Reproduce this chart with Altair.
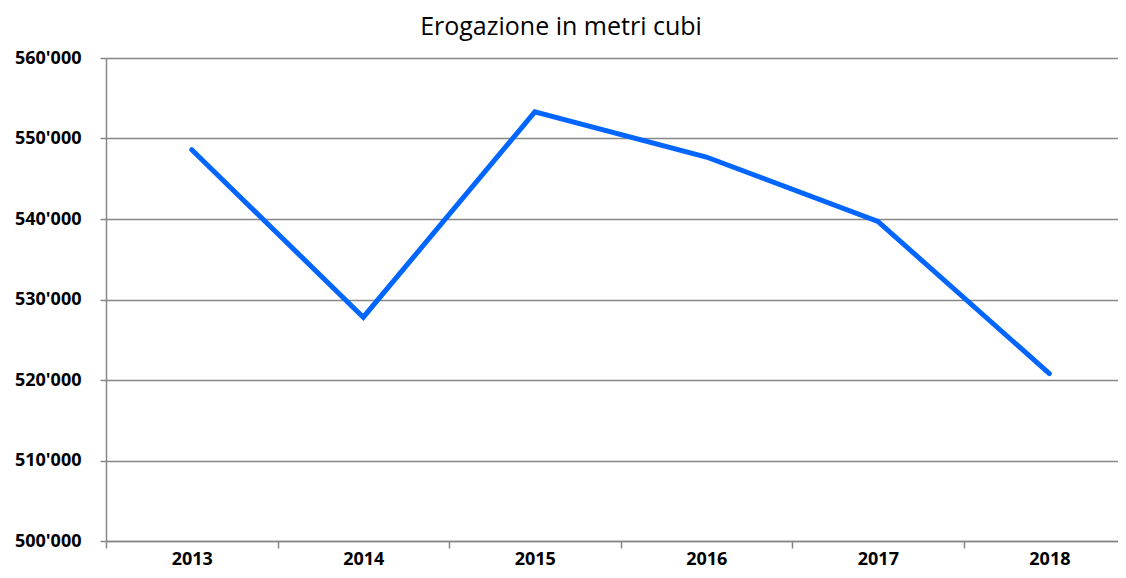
import altair as alt
import pandas as pd

years = [2013, 2014, 2015, 2016, 2017, 2018]
values = [548600, 527800, 553300, 547700, 539700, 520800]
y_ticks = [500000, 510000, 520000, 530000, 540000, 550000, 560000]
x_tick_positions = [2012.5, 2013.5, 2014.5, 2015.5, 2016.5, 2017.5]

df = pd.DataFrame({"anno": years, "valore": values})

GRAY = "#878787"
FONT = "Open Sans"

line = alt.Chart(df).mark_line(
    color="#0066FF", strokeWidth=5, strokeCap="round", strokeJoin="miter"
).encode(
    x=alt.X(
        "anno:Q",
        scale=alt.Scale(domain=[2012.5, 2018.40], nice=False, zero=False),
        axis=alt.Axis(
            title=None,
            values=x_tick_positions,
            labelExpr="format(floor(datum.value) + 1, 'd')",
            labelOffset=85.75,
            labelFlush=False,
            labelOverlap=False,
            labelFont=FONT,
            labelFontSize=18,
            labelFontWeight="bold",
            labelColor="#000000",
            labelBaseline="alphabetic",
            labelPadding=16,
            tickSize=7,
            tickColor=GRAY,
            tickWidth=1.5,
            domainColor=GRAY,
            domainWidth=1.5,
            grid=False,
        ),
    ),
    y=alt.Y(
        "valore:Q",
        scale=alt.Scale(domain=[500000, 560000], nice=False, zero=False),
        axis=alt.Axis(
            title=None,
            values=y_ticks,
            labelExpr="replace(format(datum.value, ','), ',', \"'\")",
            labelFont=FONT,
            labelFontSize=18,
            labelFontWeight="bold",
            labelColor="#000000",
            labelPadding=19,
            tickSize=6,
            tickColor=GRAY,
            tickWidth=1.5,
            domainColor=GRAY,
            domainWidth=1.5,
            grid=True,
            gridColor=GRAY,
            gridWidth=1.5,
        ),
    ),
)

chart = alt.layer(line).properties(
    width=1012,
    height=483,
    padding={"left": 98, "top": 50, "right": 0, "bottom": 29},
    autosize=alt.AutoSizeParams(type="none"),
    title=alt.TitleParams(
        "Erogazione in metri cubi",
        font=FONT,
        fontSize=25,
        fontWeight="normal",
        color="#000000",
        anchor="middle",
        dx=-51,
        offset=9,
    ),
).configure_view(stroke=None).configure(background="white")

chart.save("out.html", embed_options={"renderer": "svg", "actions": False})
